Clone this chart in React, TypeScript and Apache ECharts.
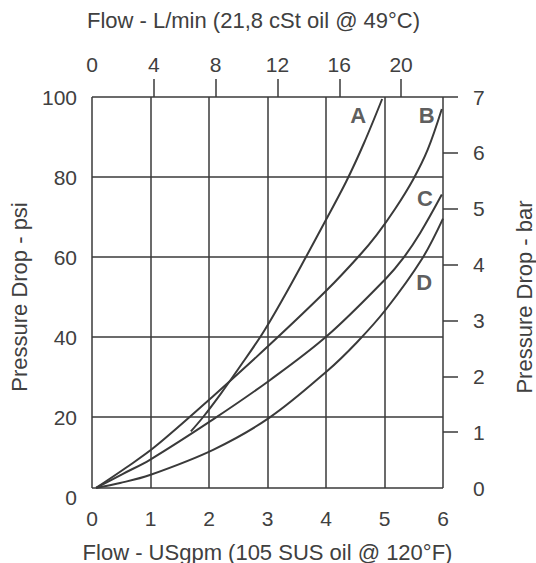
import React, { useEffect, useRef } from "react";
import * as echarts from "echarts";

// Axis tick values
const GPM_TICKS = [0, 1, 2, 3, 4, 5, 6];
const PSI_LINES = [20, 40, 60, 80, 100];
const BAR_LABELS = [0, 1, 2, 3, 4, 5, 6, 7];
const BAR_TICKS = [1, 2, 3, 4, 5, 6, 7];
const LPM_LABELS = [0, 4, 8, 12, 16, 20];
const LPM_TICKS = [4, 8, 12, 16, 20];
const LPM_PER_GPM = 3.785;
// bottom edge of the printed frame
const FRAME_BOTTOM_PSI = 2.27;
// bar scale as printed (0 bar sits on the frame bottom)
const BAR_MIN = -0.16;
const BAR_MAX = 7;

// Curves: [USgpm, psi]
const curveA: [number, number][] = [
  [1.69, 16.4], [1.9, 20.0], [2.2, 25.8], [2.5, 32.0], [2.92, 41.0],
  [3.3, 50.5], [3.65, 59.8], [4.0, 69.3], [4.35, 79.0], [4.65, 88.5], [4.96, 99.5],
];
const curveB: [number, number][] = [
  [0.07, 2.27], [0.58, 7.3], [1.08, 12.6], [2.07, 25.2], [3.04, 38.1],
  [4.02, 51.8], [4.58, 60.5], [4.87, 65.6], [5.18, 72.0], [5.49, 79.4],
  [5.74, 86.9], [5.98, 97.0],
];
const curveC: [number, number][] = [
  [0.07, 2.27], [0.53, 5.8], [0.99, 9.3], [2.07, 19.4], [3.04, 29.2],
  [4.02, 40.3], [5.03, 54.7], [5.32, 59.7], [5.61, 66.0], [5.98, 75.6],
];
const curveD: [number, number][] = [
  [0.07, 2.27], [0.48, 3.5], [0.99, 5.5], [2.07, 11.8], [3.04, 19.9],
  [4.02, 31.5], [4.53, 38.7], [5.03, 47.0], [5.64, 59.5], [6.0, 69.6],
];

const CURVE_NAMES = ["A", "B", "C", "D"];
const LABEL_GPM = [4.55, 5.72, 5.69, 5.68];
const LABEL_PSI = [95.4, 95.4, 74.6, 53.7];

const TEXT = "#404040";
const LINE = "#3a3a3a";
const FONT = "Liberation Sans, Arial, sans-serif";

export default function App() {
  const ref = useRef<HTMLDivElement>(null);

  useEffect(() => {
    if (!ref.current) return;
    const chart = echarts.init(ref.current, undefined, { renderer: "svg" });

    const gridLines: any[] = [];
    GPM_TICKS.forEach((g) => {
      gridLines.push([{ coord: [g, FRAME_BOTTOM_PSI] }, { coord: [g, 100] }]);
    });
    [FRAME_BOTTOM_PSI, ...PSI_LINES].forEach((p) => {
      gridLines.push([{ coord: [0, p] }, { coord: [6, p] }]);
    });

    const curveSeries = [curveA, curveB, curveC, curveD].map((d, i) => ({
      type: "line",
      name: CURVE_NAMES[i],
      data: d,
      smooth: 0.35,
      symbol: "none",
      xAxisIndex: 0,
      yAxisIndex: 0,
      lineStyle: { color: LINE, width: 2 },
      z: 3,
    }));

    const option: any = {
      animation: false,
      backgroundColor: "#ffffff",
      textStyle: { fontFamily: FONT },
      grid: {
        left: 92,
        right: 93,
        top: 97,
        bottom: 66,
        containLabel: false,
        outerBoundsMode: "none",
      },
      xAxis: [
        {
          type: "value",
          position: "bottom",
          min: 0,
          max: 6,
          interval: 1,
          axisLine: { show: false, onZero: false },
          axisTick: { show: false },
          splitLine: { show: false },
          axisLabel: { color: TEXT, fontSize: 21, margin: 11, fontFamily: FONT },
          name: "Flow - USgpm (105 SUS oil @ 120°F)",
          nameLocation: "middle",
          nameGap: 44,
          nameTextStyle: { color: TEXT, fontSize: 22, fontFamily: FONT },
        },
        {
          type: "value",
          position: "top",
          min: 0,
          max: 6 * LPM_PER_GPM,
          axisLine: { show: false, onZero: false },
          axisTick: {
            show: true,
            inside: false,
            length: 18,
            customValues: LPM_TICKS,
            lineStyle: { color: LINE, width: 1.5 },
          },
          splitLine: { show: false },
          axisLabel: {
            color: TEXT,
            fontSize: 21,
            margin: 22,
            fontFamily: FONT,
            customValues: LPM_LABELS,
          },
          name: "Flow - L/min (21,8 cSt oil @ 49°C)",
          nameLocation: "middle",
          nameGap: 66,
          nameTextStyle: { color: TEXT, fontSize: 22, fontFamily: FONT, padding: [0, 28, 0, 0] },
        },
      ],
      yAxis: [
        {
          type: "value",
          position: "left",
          min: 0,
          max: 100,
          interval: 20,
          axisLine: { show: false, onZero: false },
          axisTick: { show: false },
          splitLine: { show: false },
          axisLabel: { color: TEXT, fontSize: 21, margin: 15, fontFamily: FONT },
          name: "Pressure Drop - psi",
          nameLocation: "middle",
          nameGap: 62,
          nameTextStyle: { color: TEXT, fontSize: 22, fontFamily: FONT },
        },
        {
          type: "value",
          position: "right",
          min: BAR_MIN,
          max: BAR_MAX,
          axisLine: { show: false, onZero: false },
          axisTick: {
            show: true,
            inside: false,
            length: 15,
            customValues: BAR_TICKS,
            lineStyle: { color: LINE, width: 1.5 },
          },
          splitLine: { show: false },
          axisLabel: {
            color: TEXT,
            fontSize: 21,
            margin: 30,
            fontFamily: FONT,
            customValues: BAR_LABELS,
          },
          name: "Pressure Drop - bar",
          nameLocation: "middle",
          nameGap: 70,
          nameTextStyle: { color: TEXT, fontSize: 22, fontFamily: FONT },
        },
      ],
      series: [
        {
          type: "line",
          name: "frame",
          data: [],
          xAxisIndex: 0,
          yAxisIndex: 0,
          symbol: "none",
          silent: true,
          z: 1,
          markLine: {
            silent: true,
            symbol: ["none", "none"],
            label: { show: false },
            lineStyle: { color: LINE, width: 1.5, type: "solid" },
            data: gridLines,
          },
        },
        ...curveSeries,
        {
          type: "scatter",
          name: "labels",
          xAxisIndex: 0,
          yAxisIndex: 0,
          symbolSize: 0,
          silent: true,
          z: 4,
          data: CURVE_NAMES.map((n, i) => ({ name: n, value: [LABEL_GPM[i], LABEL_PSI[i]] })),
          label: {
            show: true,
            position: "inside",
            formatter: (p: any) => p.name,
            color: "#333",
            fontSize: 22,
            fontWeight: "bold",
            fontFamily: FONT,
          },
        },
      ],
    };

    chart.setOption(option);
    return () => chart.dispose();
  }, []);

  return (
    <div
      ref={ref}
      style={{ position: "fixed", left: 0, top: 0, width: 536, height: 563, background: "#fff" }}
    />
  );
}
